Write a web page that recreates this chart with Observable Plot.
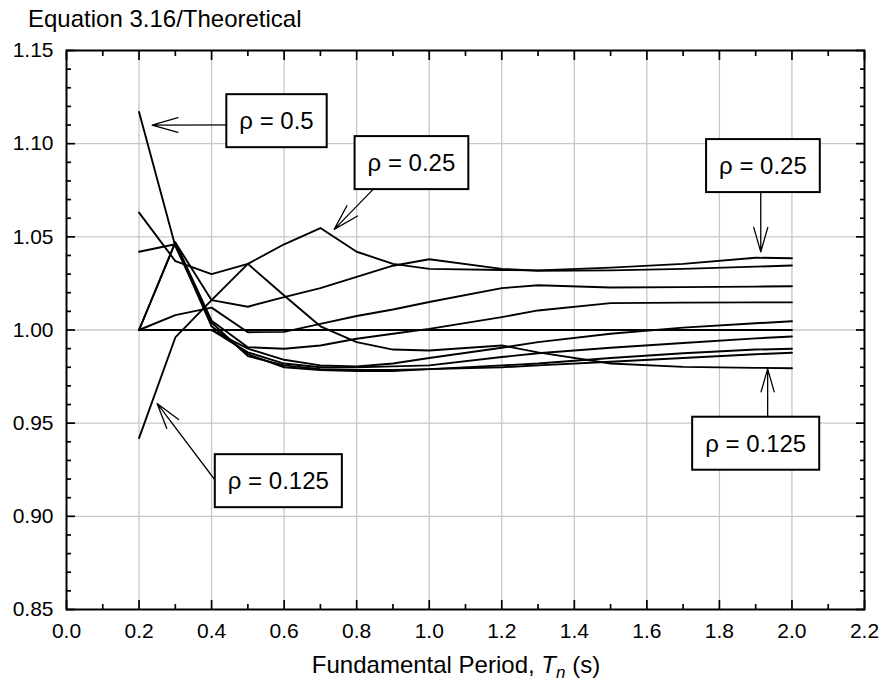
<!DOCTYPE html>
<html>
<head>
<meta charset="utf-8">
<script src="https://cdn.jsdelivr.net/npm/d3@7"></script>
<script src="https://cdn.jsdelivr.net/npm/@observablehq/plot@0.6"></script>
<style>
  body { margin: 0; background: #fff; }
  svg { display: block; }
</style>
</head>
<body>
<div id="chart"></div>
<script>
// Fundamental periods Tn (s) at which each ratio was evaluated
const periods = [0.2, 0.3, 0.4, 0.5, 0.6, 0.7, 0.8, 0.9, 1.0, 1.2, 1.3, 1.5, 1.7, 1.9, 2.0];

// Ratio Equation 3.16 / Theoretical, one array per curve
const curve01 = [1.063, 1.037, 1.030, 1.0355, 1.046, 1.0547, 1.042, 1.0355, 1.0328, 1.0322, 1.032, 1.0335, 1.0355, 1.0388, 1.0385];
const curve02 = [1.000, 1.047, 1.016, 1.0125, 1.0176, 1.0225, 1.0285, 1.0345, 1.038, 1.0328, 1.0318, 1.032, 1.0328, 1.034, 1.0346];
const curve03 = [1.000, 1.008, 1.012, 0.9988, 0.999, 1.0033, 1.0075, 1.011, 1.015, 1.0225, 1.024, 1.0228, 1.023, 1.0233, 1.0235];
const curve04 = [1.000, 1.047, 1.005, 0.9908, 0.9899, 0.9917, 0.9953, 0.998, 1.0006, 1.0069, 1.0105, 1.0144, 1.0147, 1.0148, 1.0148];
const curve05 = [1.000, 1.000, 1.000, 0.990, 0.984, 0.981, 0.9805, 0.982, 0.985, 0.9905, 0.9935, 0.998, 1.0013, 1.0036, 1.0047];
const curve06 = [1.000, 1.000, 1.000, 1.000, 1.000, 1.000, 1.000, 1.000, 1.000, 1.000, 1.000, 1.000, 1.000, 1.000, 1.000];
const curve07 = [1.000, 1.000, 1.000, 0.988, 0.982, 0.980, 0.980, 0.9805, 0.981, 0.9855, 0.9875, 0.9905, 0.993, 0.9955, 0.9965];
const curve08 = [1.117, 1.045, 1.004, 0.986, 0.981, 0.979, 0.9785, 0.9785, 0.979, 0.981, 0.982, 0.985, 0.9875, 0.9895, 0.9899];
const curve09 = [1.042, 1.046, 1.002, 0.987, 0.980, 0.9785, 0.978, 0.978, 0.979, 0.980, 0.981, 0.983, 0.985, 0.987, 0.9878];
const curve10 = [0.942, 0.996, 1.016, 1.0355, 1.0185, 1.002, 0.9935, 0.9895, 0.989, 0.9917, 0.988, 0.982, 0.9802, 0.9797, 0.9795];

// Callout labels (centre of each boxed label) and their pointer arrows
const labelText  = ["ρ = 0.5", "ρ = 0.25", "ρ = 0.25", "ρ = 0.125", "ρ = 0.125"];
const labelT     = [0.579, 0.951, 1.920, 1.900, 0.584];
const labelRatio = [1.1119, 1.0894, 1.0878, 0.9388, 0.9187];
const arrowFromT     = [0.5065, 0.907, 1.914, 1.933, 0.4458];
const arrowFromRatio = [1.1101, 1.0878, 1.0830, 0.9407, 0.9101];
const arrowToT       = [0.236, 0.738, 1.914, 1.933, 0.2498];
const arrowToRatio   = [1.1100, 1.0540, 1.0419, 0.9791, 0.9606];

// Axis ticks
const xMajor = [0.0, 0.2, 0.4, 0.6, 0.8, 1.0, 1.2, 1.4, 1.6, 1.8, 2.0, 2.2];
const xMinor = [0.1, 0.3, 0.5, 0.7, 0.9, 1.1, 1.3, 1.5, 1.7, 1.9, 2.1];
const yMajor = [0.85, 0.90, 0.95, 1.00, 1.05, 1.10, 1.15];
const yMinor = d3.range(85, 116).filter(k => k % 5 !== 0).map(k => k / 100);

const curves = [curve01, curve02, curve03, curve04, curve05, curve06, curve07, curve08, curve09, curve10];
const rows = curves.flatMap((vals, k) => periods.map((T, i) => ({curve: k, T, ratio: vals[i]})));
const callouts = labelText.map((text, i) => ({text, T: labelT[i], ratio: labelRatio[i]}));
const pointers = arrowFromT.map((t, i) => ({
  x1: t, y1: arrowFromRatio[i], x2: arrowToT[i], y2: arrowToRatio[i]
}));

const W = 882, H = 689;
const margin = {left: 66, right: 18, top: 50, bottom: 80};
const font = "'Liberation Sans', Arial, sans-serif";
const tick = {stroke: "black", strokeWidth: 1.7, label: null};

const chart = Plot.plot({
  width: W,
  height: H,
  marginLeft: margin.left,
  marginRight: margin.right,
  marginTop: margin.top,
  marginBottom: margin.bottom,
  style: {fontFamily: font, background: "white", color: "black"},
  x: {domain: [0, 2.2], label: null},
  y: {domain: [0.85, 1.15], label: null},
  marks: [
    Plot.gridX(xMajor.slice(1, -1), {stroke: "#c8c8c8", strokeOpacity: 1, strokeWidth: 1.3}),
    Plot.gridY(yMajor.slice(1, -1), {stroke: "#c8c8c8", strokeOpacity: 1, strokeWidth: 1.3}),
    Plot.line(rows, {x: "T", y: "ratio", z: "curve", stroke: "black", strokeWidth: 1.9}),
    Plot.arrow(pointers, {x1: "x1", y1: "y1", x2: "x2", y2: "y2", stroke: "black",
      strokeWidth: 1.3, headAngle: 32, headLength: 31}),
    Plot.text(callouts, {x: "T", y: "ratio", text: "text", fontSize: 24,
      textAnchor: "middle", lineAnchor: "middle", fill: "black"}),
    Plot.frame({stroke: "black", strokeWidth: 2}),
    Plot.axisX(xMajor, {...tick, anchor: "bottom", tickSize: -9, tickPadding: 23,
      tickFormat: d3.format(".1f"), fontSize: 21, fill: "black"}),
    Plot.axisX(xMinor, {...tick, anchor: "bottom", tickSize: -5, fill: "none"}),
    Plot.axisX(xMajor, {...tick, anchor: "top", tickSize: -9, fill: "none"}),
    Plot.axisX(xMinor, {...tick, anchor: "top", tickSize: -5, fill: "none"}),
    Plot.axisY(yMajor, {...tick, anchor: "left", tickSize: -9, tickPadding: 22,
      tickFormat: d3.format(".2f"), fontSize: 21, fill: "black"}),
    Plot.axisY(yMinor, {...tick, anchor: "left", tickSize: -5, fill: "none"}),
    Plot.axisY(yMajor, {...tick, anchor: "right", tickSize: -9, fill: "none"}),
    Plot.axisY(yMinor, {...tick, anchor: "right", tickSize: -5, fill: "none"})
  ]
});

document.getElementById("chart").appendChild(chart);

// White boxes with a black border behind each callout label
const padX = 13, padY = 13;
d3.select(chart).selectAll('g[aria-label="text"] text').each(function () {
  const b = this.getBBox();
  const rect = document.createElementNS("http://www.w3.org/2000/svg", "rect");
  rect.setAttribute("x", b.x - padX);
  rect.setAttribute("y", b.y - padY);
  rect.setAttribute("width", b.width + 2 * padX);
  rect.setAttribute("height", b.height + 2 * padY);
  rect.setAttribute("fill", "white");
  rect.setAttribute("stroke", "black");
  rect.setAttribute("stroke-width", 2);
  const tf = this.getAttribute("transform");
  if (tf) rect.setAttribute("transform", tf);
  this.parentNode.insertBefore(rect, this);
});

const svg = d3.select(chart);

// Chart title
svg.append("text")
  .attr("x", 28)
  .attr("y", 27)
  .attr("text-anchor", "start")
  .attr("font-family", font)
  .attr("font-size", 24)
  .attr("fill", "black")
  .text("Equation 3.16/Theoretical");

// X-axis title with italic, subscripted period symbol
const xt = svg.append("text")
  .attr("x", 456)
  .attr("y", H - 16)
  .attr("text-anchor", "middle")
  .attr("font-family", font)
  .attr("font-size", 24)
  .attr("fill", "black");
xt.append("tspan").text("Fundamental Period, ");
xt.append("tspan").attr("font-style", "italic").text("T");
xt.append("tspan").attr("font-style", "italic").attr("font-size", 17).attr("dy", 5).text("n");
xt.append("tspan").attr("dy", -5).text(" (s)");
</script>
</body>
</html>
